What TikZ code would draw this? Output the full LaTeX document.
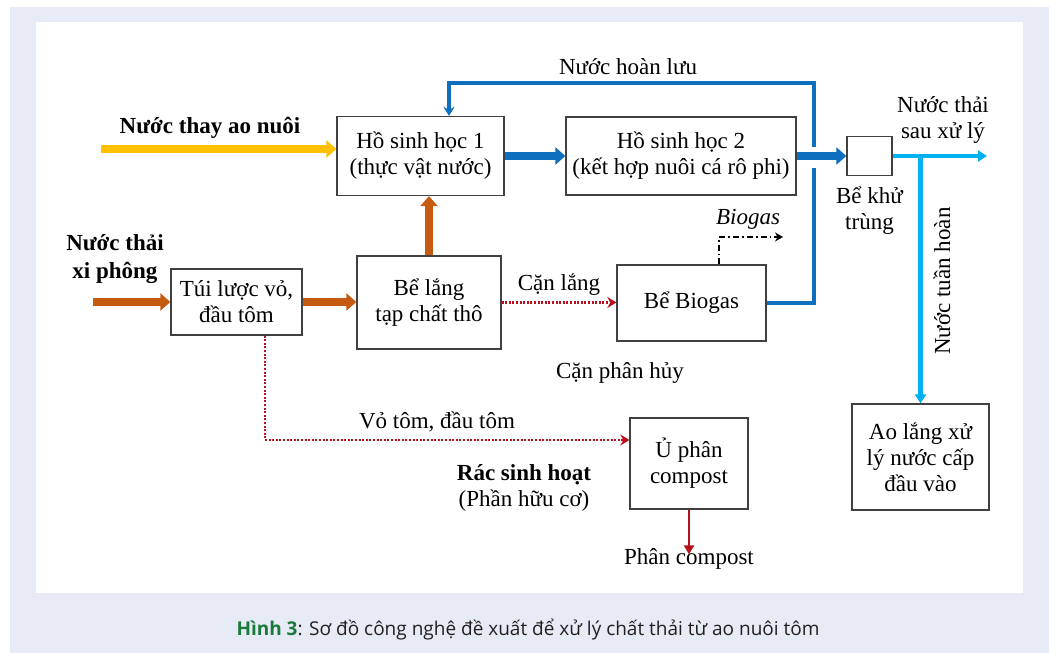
\documentclass[tikz,border=0pt]{standalone}
\usepackage{fontspec}
\setmainfont{Liberation Serif}
\newfontfamily\capfont{Open Sans}
\usepackage{xcolor}
\usepackage{tikz}
\usetikzlibrary{positioning, arrows.meta}

\definecolor{pagebg}{HTML}{E6EBF5}
\definecolor{boxline}{HTML}{404040}
\definecolor{waterin}{HTML}{FFC000}
\definecolor{sludge}{HTML}{C55A11}
\definecolor{flowblue}{HTML}{0F6FBF}
\definecolor{cleanblue}{HTML}{00B0F0}
\definecolor{solidred}{HTML}{B5121B}
\definecolor{capgreen}{HTML}{1A7A3A}
\definecolor{captext}{HTML}{231F20}

\tikzset{
  box/.style={draw=boxline, line width=1.3pt, fill=white, align=center,
    inner sep=2pt},
  lbl/.style={align=center, inner sep=0pt},
  fatarrow/.style={line width=8.5pt, -{Triangle[width=17pt,length=10pt]}},
  yarrow/.style={fatarrow, draw=waterin},
  oarrow/.style={fatarrow, draw=sludge},
  barrow/.style={fatarrow, draw=flowblue},
  recirc/.style={line width=3.2pt, draw=flowblue, -{Stealth[width=11pt,length=9pt]}},
  cleanflow/.style={line width=4.6pt, draw=cleanblue, -{Triangle[width=11pt,length=9pt]}},
  dotarrow/.style={line width=2.8pt, draw=solidred, dash pattern=on 2pt off 1.6pt,
    -{Stealth[width=11pt,length=9pt,sep=0pt]}},
  gasline/.style={line width=1.8pt, dash pattern=on 6pt off 3pt on 1.8pt off 3pt,
    -{Stealth[width=9pt,length=8pt]}},
  redarrow/.style={line width=2.8pt, draw=solidred, -{Triangle[width=10pt,length=9pt]}},
}

\begin{document}
\begin{tikzpicture}[x=1pt,y=-1pt,font=\fontsize{23}{26}\selectfont]

\useasboundingbox (0,0) rectangle (1058,653);
\fill[pagebg] (10,7) rectangle (1049,653);
\fill[white] (36,22) rectangle (1023,593);

% Define nodes
\node[box, minimum width=167pt, minimum height=79pt] (ho1) at (420.5,156) {Hồ sinh học 1\\(thực vật nước)};
\node[box, minimum width=230pt, minimum height=78pt] (ho2) at (681,156) {Hồ sinh học 2\\(kết hợp nuôi cá rô phi)};
\node[box, minimum width=45pt, minimum height=39pt] (khutrung) at (869.5,156) {};
\node[lbl, below=10pt of khutrung] (khutrunglbl) {Bể khử\\trùng};
\node[box, minimum width=131pt, minimum height=66pt] (tui) at (236.5,302) {Túi lược vỏ,\\đầu tôm};
\node[box, minimum width=144pt, minimum height=93pt] (belang) at (429,302.5) {Bể lắng\\tạp chất thô};
\node[box, minimum width=149pt, minimum height=76pt] (biogas) at (691.5,303) {Bể Biogas};
\node[box, minimum width=118pt, minimum height=91pt] (uphan) at (689,463.5) {Ủ phân\\compost};
\node[box, minimum width=137pt, minimum height=106pt] (aolang) at (920.5,457) {Ao lắng xử\\lý nước cấp\\đầu vào};

\coordinate (inwater) at (101,149);
\coordinate (insiphon) at (93,302);
\coordinate (recorner) at (814,83);
\coordinate (outend) at (987,0);
\coordinate (gasend) at (783,237);

% Labels
\node[lbl, font=\fontsize{23}{26}\selectfont\bfseries] (thayao) at (210,128) {Nước thay ao nuôi};
\node[lbl, font=\fontsize{23}{28}\selectfont\bfseries] (xiphong) at (115,259) {Nước thải\\xi phông};
\node[lbl] (hoanluu) at (628,67) {Nước hoàn lưu};
\node[lbl] (sauxuly) at (943,120) {Nước thải\\sau xử lý};
\node[lbl, rotate=90] (tuanhoan) at (942,281) {Nước tuần hoàn};
\node[lbl] (canlang) at (559,285) {Cặn lắng};
\node[lbl, font=\fontsize{23}{26}\selectfont\itshape] (biogaslbl) at (748,219) {Biogas};
\node[lbl] (canphanhuy) at (620,373) {Cặn phân hủy};
\node[lbl] (votom) at (437,422) {Vỏ tôm, đầu tôm};
\node[lbl] (racsh) at (524,488) {\textbf{Rác sinh hoạt}\\(Phần hữu cơ)};
\node[lbl] (phancompost) at (689,559) {Phân compost};

% Connect the nodes
\draw[recirc] (biogas.east) -| (recorner) -| ([xshift=28.5pt]ho1.north);
\fill[white] (808,147) rectangle (820,168);
\draw[yarrow] (inwater) -- (inwater -| ho1.west);
\draw[barrow] (ho1.east) -- (ho2.west);
\draw[barrow] (ho2.east) -- (khutrung.west);
\draw[cleanflow] (khutrung.east) -- (khutrung.east -| outend);
\draw[cleanflow] (aolang.north |- khutrung.east) -- (aolang.north);
\draw[oarrow] (insiphon) -- (tui.west);
\draw[oarrow] (tui.east) -- (tui.east -| belang.west);
\draw[oarrow] (belang.north) -- (belang.north |- ho1.south);
\draw[dotarrow] (belang.east) -- (belang.east -| biogas.west);
\draw[gasline] ([xshift=27.5pt]biogas.north) |- (gasend);
\draw[dotarrow] ([xshift=28.5pt]tui.south) |- ([yshift=23.5pt]uphan.west);
\draw[redarrow] (uphan.south) -- ([yshift=-6pt]phancompost.north);

% Caption
\node[lbl, font=\capfont\fontsize{19}{22}\selectfont, text=captext] (caption) at (528,630)
  {{\color{capgreen}\bfseries Hình 3}: Sơ đồ công nghệ đề xuất để xử lý chất thải từ ao nuôi tôm};
\end{tikzpicture}
\end{document}
